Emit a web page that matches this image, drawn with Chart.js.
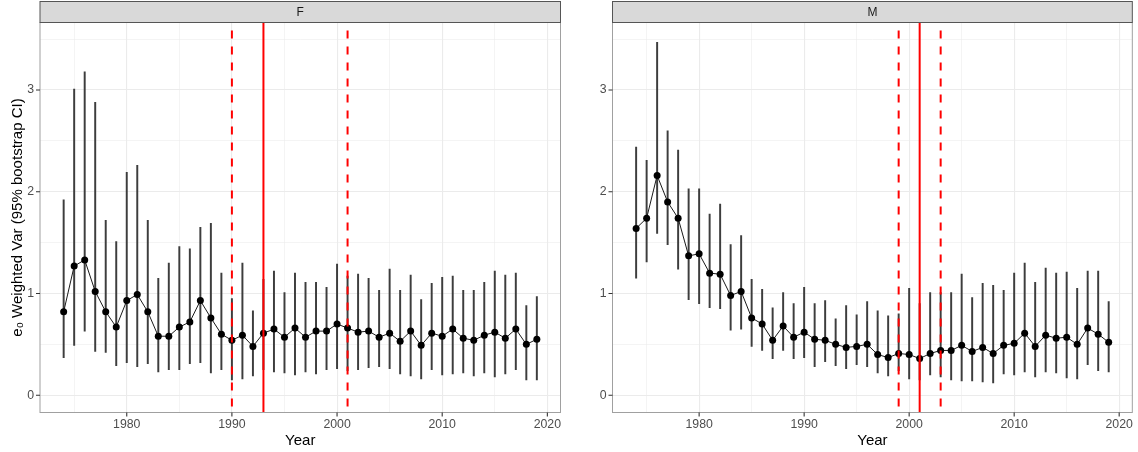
<!DOCTYPE html>
<html>
<head>
<meta charset="utf-8">
<script src="https://cdn.jsdelivr.net/npm/chart.js@4.4.0/dist/chart.umd.min.js"></script>
<style>
  html, body { margin: 0; padding: 0; background: #fff; }
  .panel { position: absolute; top: 0; width: 569px; height: 452px; }
</style>
</head>
<body>
<div class="panel" style="left:0"><canvas id="chartF"></canvas></div>
<div class="panel" style="left:569px"><canvas id="chartM"></canvas></div>
<script>
const years = [
  1974, 1975, 1976, 1977, 1978, 1979, 1980, 1981, 1982, 1983,
  1984, 1985, 1986, 1987, 1988, 1989, 1990, 1991, 1992, 1993,
  1994, 1995, 1996, 1997, 1998, 1999, 2000, 2001, 2002, 2003,
  2004, 2005, 2006, 2007, 2008, 2009, 2010, 2011, 2012, 2013,
  2014, 2015, 2016, 2017, 2018, 2019,
];

const femaleVar = [
  0.82, 1.27, 1.33, 1.02, 0.82, 0.67, 0.93, 0.99, 0.82, 0.58,
  0.58, 0.67, 0.72, 0.93, 0.76, 0.60, 0.54, 0.59, 0.48, 0.61,
  0.65, 0.57, 0.66, 0.57, 0.63, 0.63, 0.70, 0.66, 0.62, 0.63,
  0.57, 0.61, 0.53, 0.63, 0.49, 0.61, 0.58, 0.65, 0.56, 0.54,
  0.59, 0.62, 0.56, 0.65, 0.50, 0.55,
];
const femaleLow = [
  0.37, 0.49, 0.63, 0.43, 0.42, 0.29, 0.32, 0.28, 0.31, 0.23,
  0.25, 0.25, 0.31, 0.32, 0.22, 0.25, 0.15, 0.16, 0.19, 0.25,
  0.23, 0.22, 0.20, 0.23, 0.21, 0.25, 0.26, 0.24, 0.25, 0.27,
  0.28, 0.26, 0.21, 0.19, 0.16, 0.25, 0.20, 0.21, 0.22, 0.19,
  0.22, 0.18, 0.21, 0.25, 0.15, 0.15,
];
const femaleHigh = [
  1.92, 3.01, 3.18, 2.88, 1.72, 1.51, 2.19, 2.26, 1.72, 1.15,
  1.30, 1.46, 1.44, 1.65, 1.69, 1.20, 0.95, 1.30, 0.83, 1.14,
  1.22, 1.01, 1.20, 1.11, 1.11, 1.06, 1.29, 1.17, 1.19, 1.15,
  1.03, 1.24, 1.03, 1.18, 0.94, 1.10, 1.16, 1.17, 1.03, 1.03,
  1.11, 1.22, 1.18, 1.20, 0.88, 0.97,
];

const maleVar = [
  1.64, 1.74, 2.16, 1.90, 1.74, 1.37, 1.39, 1.20, 1.19, 0.98,
  1.02, 0.76, 0.70, 0.54, 0.68, 0.57, 0.62, 0.55, 0.54, 0.50,
  0.47, 0.48, 0.50, 0.40, 0.37, 0.41, 0.40, 0.36, 0.41, 0.44,
  0.44, 0.49, 0.43, 0.47, 0.41, 0.49, 0.51, 0.61, 0.48, 0.59,
  0.56, 0.57, 0.50, 0.66, 0.60, 0.52,
];
const maleLow = [
  1.15, 1.31, 1.59, 1.48, 1.24, 0.94, 0.90, 0.86, 0.85, 0.64,
  0.65, 0.48, 0.44, 0.36, 0.44, 0.36, 0.37, 0.28, 0.33, 0.29,
  0.26, 0.30, 0.28, 0.22, 0.19, 0.24, 0.16, 0.15, 0.20, 0.18,
  0.15, 0.14, 0.14, 0.13, 0.12, 0.21, 0.20, 0.23, 0.18, 0.23,
  0.22, 0.17, 0.16, 0.30, 0.24, 0.23,
];
const maleHigh = [
  2.44, 2.31, 3.47, 2.60, 2.41, 2.03, 2.03, 1.78, 1.88, 1.48,
  1.57, 1.14, 1.04, 0.86, 1.01, 0.90, 1.06, 0.90, 0.93, 0.75,
  0.88, 0.79, 0.92, 0.83, 0.78, 0.80, 1.05, 0.90, 1.01, 1.01,
  1.01, 1.19, 0.96, 1.10, 1.08, 1.03, 1.20, 1.30, 1.11, 1.25,
  1.20, 1.21, 1.05, 1.22, 1.22, 0.92,
];

// break year (solid) and its interval (dashed)
const femaleBreak = 1993;
const femaleBreakCI = [1990, 2001];
const maleBreak = 2001;
const maleBreakCI = [1999, 2003];

const xTicks = [1975, 1980, 1985, 1990, 1995, 2000, 2005, 2010, 2015, 2020];
const yTicks = [0, 0.5, 1, 1.5, 2, 2.5, 3, 3.5];
const xRange = [1971.75, 2021.25];
const yRange = [-0.17, 3.664];

Chart.defaults.font.family = "'Liberation Sans', Arial, sans-serif";

const isMajor = (v, step) => Math.abs(v / step - Math.round(v / step)) < 1e-6;
const tickMajor = (c, step) => !c.tick || isMajor(c.tick.value, step);

// ggplot-like panel border, tick marks and facet strip
const facetFrame = {
  id: "facetFrame",
  afterDraw(chart, args, opts) {
    const { ctx, chartArea: a, scales } = chart;
    ctx.save();
    ctx.strokeStyle = "#a0a0a0";
    ctx.lineWidth = 1;
    ctx.strokeRect(a.left, a.top, a.right - a.left, a.bottom - a.top);

    ctx.strokeStyle = "#333";
    ctx.lineWidth = 1.1;
    ctx.beginPath();
    xTicks.filter((v) => isMajor(v, 10)).forEach((v) => {
      const px = scales.x.getPixelForValue(v);
      ctx.moveTo(px, a.bottom);
      ctx.lineTo(px, a.bottom + 4);
    });
    yTicks.filter((v) => isMajor(v, 1)).forEach((v) => {
      const py = scales.y.getPixelForValue(v);
      ctx.moveTo(a.left, py);
      ctx.lineTo(a.left - 4, py);
    });
    ctx.stroke();

    ctx.fillStyle = "#d9d9d9";
    ctx.fillRect(a.left, 1.5, a.right - a.left, a.top - 1.5);
    ctx.strokeStyle = "#555";
    ctx.lineWidth = 1;
    ctx.strokeRect(a.left, 1.5, a.right - a.left, a.top - 1.5);
    ctx.fillStyle = "#1a1a1a";
    ctx.font = "12px 'Liberation Sans', Arial, sans-serif";
    ctx.textAlign = "center";
    ctx.textBaseline = "middle";
    ctx.fillText(opts.label, (a.left + a.right) / 2, (1.5 + a.top) / 2 + 0.5);
    ctx.restore();
  },
};

function vline(yr, dashed) {
  return {
    type: "line",
    data: [{ x: yr, y: yRange[1] }, { x: yr, y: yRange[0] }],
    borderColor: "#ff0000",
    borderWidth: 2,
    borderDash: dashed ? [8, 8] : [],
    borderDashOffset: dashed ? 8 : 0,
    pointRadius: 0,
    clip: 0,
    order: 0,
  };
}

function buildChart(id, label, vals, lo, hi, brk, brkCI, yTitle, yWidth, padRight) {
  new Chart(document.getElementById(id), {
    data: {
      datasets: [
        vline(brk, false),
        ...brkCI.map((yr) => vline(yr, true)),
        {
          type: "line",
          data: years.map((x, i) => ({ x, y: vals[i] })),
          borderColor: "#1a1a1a",
          borderWidth: 1,
          pointRadius: 3.5,
          pointBackgroundColor: "#000",
          pointBorderWidth: 0,
          order: 1,
        },
        {
          type: "bar",
          data: years.map((x, i) => ({ x, y: [lo[i], hi[i]] })),
          backgroundColor: "#3d3d3d",
          barThickness: 1.3,
          order: 2,
        },
      ],
    },
    options: {
      responsive: true,
      maintainAspectRatio: false,
      animation: false,
      layout: { padding: { left: 0, top: 22.5, right: padRight, bottom: 0 } },
      plugins: {
        legend: { display: false },
        tooltip: { enabled: false },
        facetFrame: { label },
      },
      scales: {
        x: {
          type: "linear",
          min: xRange[0],
          max: xRange[1],
          offset: false,
          afterBuildTicks: (s) => { s.ticks = xTicks.map((v) => ({ value: v })); },
          afterFit: (s) => { s.height = 39.5; },
          border: { display: false },
          grid: {
            offset: false,
            drawTicks: false,
            color: "#ebebeb",
            lineWidth: (c) => (tickMajor(c, 10) ? 1.1 : 0.55),
          },
          ticks: {
            autoSkip: false,
            maxRotation: 0,
            padding: 5,
            color: "#4d4d4d",
            font: { size: 12.3 },
            callback: (v) => (isMajor(v, 10) ? String(v) : ""),
          },
          title: {
            display: true,
            text: "Year",
            color: "#000",
            font: { size: 15 },
            padding: { top: 0, bottom: 2 },
          },
        },
        y: {
          min: yRange[0],
          max: yRange[1],
          afterBuildTicks: (s) => { s.ticks = yTicks.map((v) => ({ value: v })); },
          afterFit: (s) => { s.width = yWidth; },
          border: { display: false },
          grid: {
            offset: false,
            drawTicks: false,
            color: "#ebebeb",
            lineWidth: (c) => (tickMajor(c, 1) ? 1.1 : 0.55),
          },
          ticks: {
            padding: 6,
            color: "#4d4d4d",
            font: { size: 12.3 },
            callback: (v) => (isMajor(v, 1) ? String(v) : ""),
          },
          title: {
            display: !!yTitle,
            text: yTitle,
            color: "#000",
            font: { size: 15 },
            padding: { top: 9, bottom: 0 },
          },
        },
      },
    },
    plugins: [facetFrame],
  });
}

buildChart("chartF", "F", femaleVar, femaleLow, femaleHigh, femaleBreak, femaleBreakCI,
  "e\u2080 Weighted Var (95% bootstrap CI)", 40, 8.5);
buildChart("chartM", "M", maleVar, maleLow, maleHigh, maleBreak, maleBreakCI,
  "", 43.5, 5.5);
</script>
</body>
</html>
